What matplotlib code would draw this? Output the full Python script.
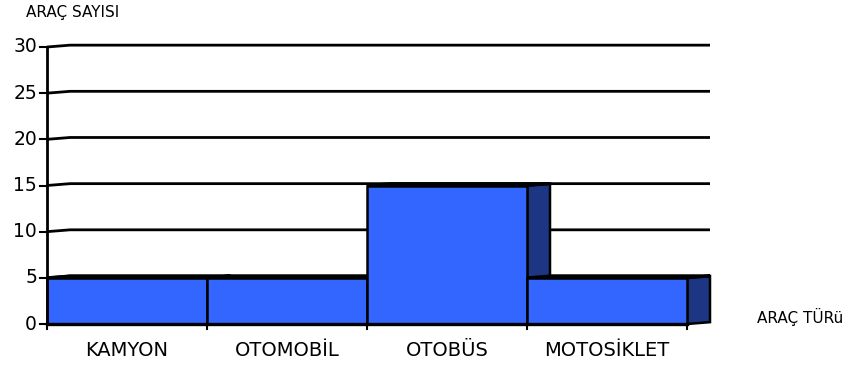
import matplotlib
matplotlib.use("Agg")
import matplotlib.pyplot as plt
from matplotlib.patches import Polygon
import numpy as np

categories = ["KAMYON", "OTOMOBİL", "OTOBÜS", "MOTOSİKLET"]
values = [5, 5, 15, 5]
y_ticks = [0, 5, 10, 15, 20, 25, 30]

front_color = "#3366ff"
side_color = "#1c3684"
edge = "black"

W, H = 849, 367
fig = plt.figure(figsize=(W / 100, H / 100), dpi=100)

# axes box: front plane from the y axis to the last category, plus room for depth
left_px, right_px, top_px, bottom_px = 47, 710, 47, 324
ax = fig.add_axes([left_px / W, 1 - bottom_px / H,
                   (right_px - left_px) / W, (bottom_px - top_px) / H])

n = len(categories)
x = np.arange(n)
depth_x = 23 / 160          # depth offset as a fraction of one category
depth_y = 0.2               # slight upward offset of the back plane
ax.set_xlim(-0.5, n - 0.5 + depth_x)
ax.set_ylim(0, 30)
ax.axis("off")

x0, x1 = -0.5, n - 0.5

# back-wall gridlines with their floor connectors
for t in y_ticks[1:]:
    ax.plot([x0, x0 + depth_x, x1 + depth_x], [t, t + depth_y, t + depth_y],
            color="black", lw=2, zorder=1, clip_on=False, solid_capstyle="butt")

# bars: side face, top face, then front face, left to right
for i, v in enumerate(values):
    a, b = i - 0.5, i + 0.5
    side = Polygon([[b, 0], [b + depth_x, depth_y], [b + depth_x, v + depth_y], [b, v]],
                   closed=True, facecolor=side_color, edgecolor=edge, lw=1.8,
                   zorder=2 + i * 3, clip_on=False)
    top = Polygon([[a, v], [a + depth_x, v + depth_y], [b + depth_x, v + depth_y], [b, v]],
                  closed=True, facecolor=front_color, edgecolor=edge, lw=2.2,
                  zorder=3 + i * 3, clip_on=False)
    ax.add_patch(side)
    ax.add_patch(top)
    ax.bar(x[i], v, width=1.0, color=front_color, edgecolor=edge, lw=1.8,
           zorder=4 + i * 3, clip_on=False)

# baseline and y axis
ax.plot([x0, x1], [0, 0], color="black", lw=2.4, zorder=40, clip_on=False)
ax.plot([x0, x0], [0, 30], color="black", lw=2, zorder=40, clip_on=False)

# y tick marks and labels
px_x = (x1 + depth_x - x0) / (right_px - left_px)
for t in y_ticks:
    ax.plot([x0 - 7 * px_x, x0], [t, t], color="black", lw=1.5, zorder=40, clip_on=False)
    ax.text(x0 - 10 * px_x, t, str(t), ha="right", va="center", fontsize=13.5,
            family="DejaVu Sans", zorder=40)

# category boundary ticks and labels
px_y = 30 / (bottom_px - top_px)
for b in np.arange(n + 1) - 0.5:
    ax.plot([b, b], [0, -5 * px_y], color="black", lw=1.5, zorder=40, clip_on=False)
for i, c in enumerate(categories):
    ax.text(x[i], -27 * px_y, c, ha="center", va="center", fontsize=14,
            family="DejaVu Sans")

fig.text(26 / W, 1 - 12 / H, "ARAÇ SAYISI", ha="left", va="center", fontsize=11)
fig.text(757 / W, 1 - 317 / H, "ARAÇ TÜRü", ha="left", va="center", fontsize=11)

fig.savefig("out.png", dpi=100)
